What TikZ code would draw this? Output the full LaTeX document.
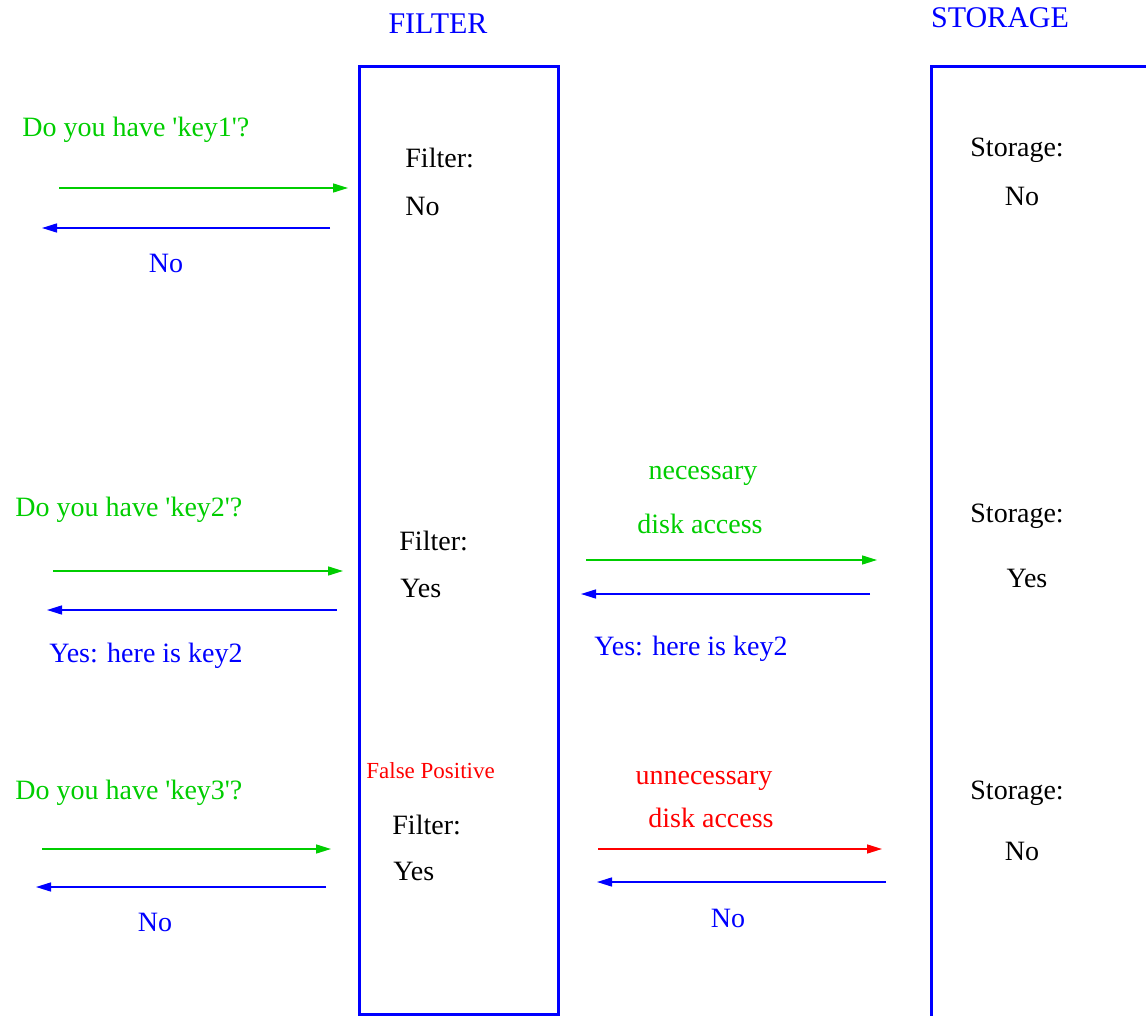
\documentclass[tikz,border=0pt]{standalone}
\usepackage{fontspec}
\setmainfont{Liberation Serif}
\usetikzlibrary{arrows.meta}
\definecolor{kgreen}{RGB}{0,205,0}
\definecolor{kblue}{RGB}{0,0,255}
\definecolor{kred}{RGB}{255,0,0}
\newcommand{\sq}{\textquotesingle}
\begin{document}
\begin{tikzpicture}[x=0.5pt,y=-0.5pt,
  lbl/.style={inner sep=0pt, font=\fontsize{14}{16}\selectfont},
  head/.style={inner sep=0pt, font=\fontsize{15}{17}\selectfont, text=kblue},
  small/.style={inner sep=0pt, font=\fontsize{11.5}{13}\selectfont},
  box/.style={draw=kblue, line width=1.5pt},
  arr/.style={line width=0.75pt, -{Triangle[length=7.5pt,width=4.5pt]}},
]
\useasboundingbox (0,0) rectangle (1146,1016);
\clip (0,0) rectangle (1146,1016);
% boxes
\node[box, inner sep=0pt, minimum width=99.5pt, minimum height=473.5pt] (filterbox) at (458.5,540.5) {};
\draw[box] (1160,67) -- (931,67) -- (931,1030);
% headings
\node[head] (hfilter) at (438,24) {FILTER};
\node[head] (hstorage) at (1000,18) {STORAGE};

% row 1
\node[lbl, text=kgreen, anchor=west] (q1) at (22,130) {Do you have \sq key1\sq ?};
\coordinate (g1s) at (59,188); \coordinate (g1e) at (348,188);
\coordinate (b1s) at (330,228); \coordinate (b1e) at (42,228);
\draw[arr, kgreen] (g1s) -- (g1e);
\draw[arr, kblue] (b1s) -- (b1e);
\node[lbl, text=kblue] (a1) at (166,263) {No};
\node[lbl, anchor=west] (f1) at (405,158) {Filter:};
\node[lbl, anchor=west] (f1a) at (405,206) {No};
\node[lbl, anchor=west] (s1) at (970,150) {Storage:};
\node[lbl] (s1a) at (1022,196) {No};

% row 2
\node[lbl, text=kgreen, anchor=west] (q2) at (15,510) {Do you have \sq key2\sq ?};
\coordinate (g2s) at (53,571); \coordinate (g2e) at (343,571);
\coordinate (b2s) at (337,610); \coordinate (b2e) at (47,610);
\draw[arr, kgreen] (g2s) -- (g2e);
\draw[arr, kblue] (b2s) -- (b2e);
\node[lbl, text=kblue, anchor=west] (a2) at (49,656) {Yes: here is key2};
\node[lbl, anchor=west] (f2) at (399,541) {Filter:};
\node[lbl, anchor=west] (f2a) at (400,588) {Yes};
\node[lbl, text=kgreen] (n2a) at (703,476) {necessary};
\node[lbl, text=kgreen] (n2b) at (700,524) {disk access};
\coordinate (g2rs) at (586,560); \coordinate (g2re) at (877,560);
\coordinate (b2rs) at (870,594); \coordinate (b2re) at (581,594);
\draw[arr, kgreen] (g2rs) -- (g2re);
\draw[arr, kblue] (b2rs) -- (b2re);
\node[lbl, text=kblue, anchor=west] (a2r) at (594,649) {Yes: here is key2};
\node[lbl, anchor=west] (s2) at (970,516) {Storage:};
\node[lbl] (s2a) at (1027,578) {Yes};

% row 3
\node[lbl, text=kgreen, anchor=west] (q3) at (15,793) {Do you have \sq key3\sq ?};
\coordinate (g3s) at (42,849); \coordinate (g3e) at (331,849);
\coordinate (b3s) at (326,887); \coordinate (b3e) at (36,887);
\draw[arr, kgreen] (g3s) -- (g3e);
\draw[arr, kblue] (b3s) -- (b3e);
\node[lbl, text=kblue] (a3) at (155,922) {No};
\node[small, text=kred, anchor=west] (fp) at (366,771) {False Positive};
\node[lbl, anchor=west] (f3) at (392,825) {Filter:};
\node[lbl, anchor=west] (f3a) at (393,871) {Yes};
\node[lbl, text=kred] (u3a) at (704,781) {unnecessary};
\node[lbl, text=kred] (u3b) at (711,818) {disk access};
\coordinate (r3s) at (598,849); \coordinate (r3e) at (882,849);
\coordinate (b3rs) at (886,882); \coordinate (b3re) at (597,882);
\draw[arr, kred] (r3s) -- (r3e);
\draw[arr, kblue] (b3rs) -- (b3re);
\node[lbl, text=kblue] (a3r) at (728,918) {No};
\node[lbl, anchor=west] (s3) at (970,793) {Storage:};
\node[lbl] (s3a) at (1022,851) {No};
\end{tikzpicture}
\end{document}
